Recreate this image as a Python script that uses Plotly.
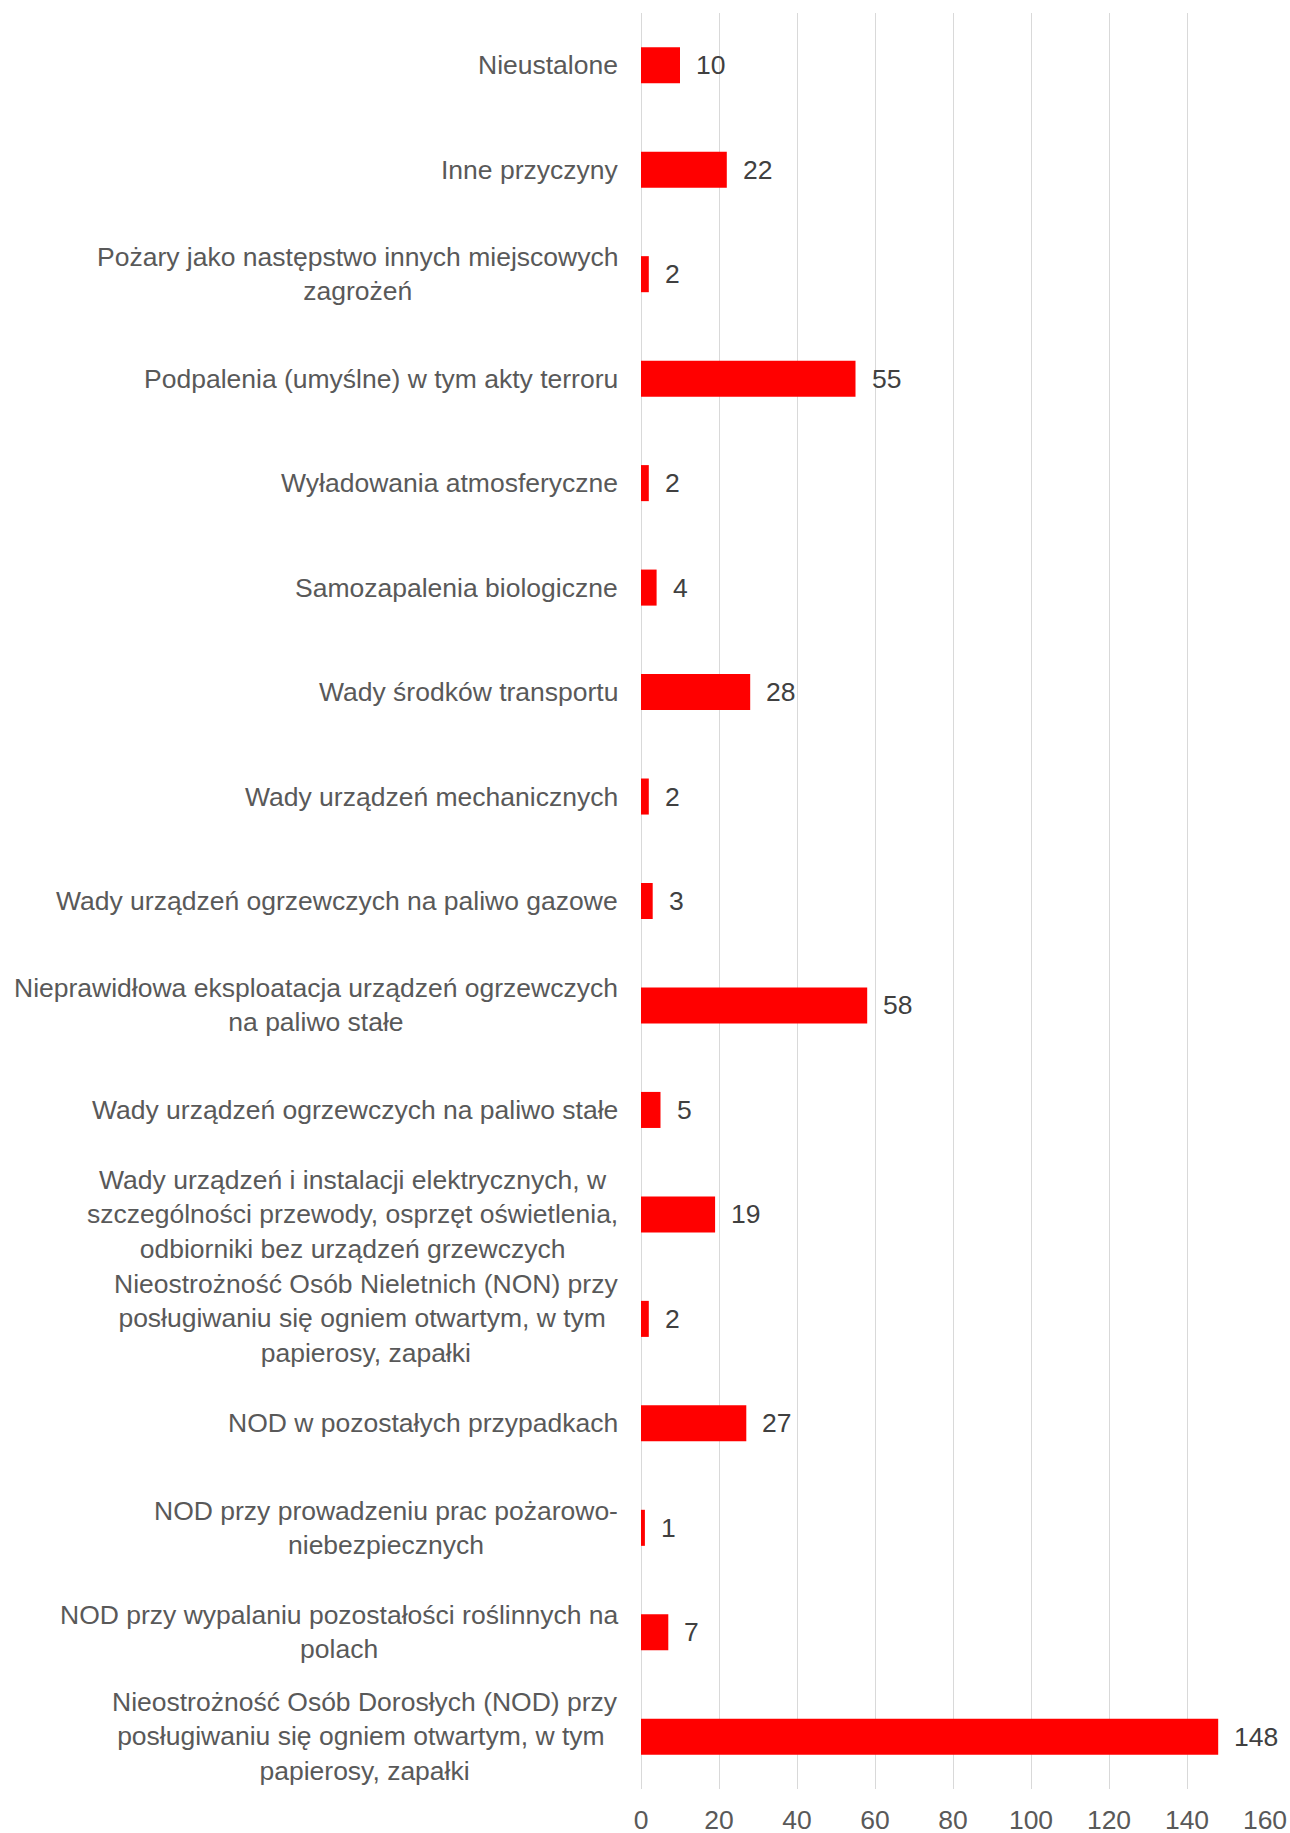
import plotly.graph_objects as go

categories = [
    "Nieustalone",
    "Inne przyczyny",
    "Pożary jako następstwo innych miejscowych<br>zagrożeń",
    "Podpalenia (umyślne) w tym akty terroru",
    "Wyładowania atmosferyczne",
    "Samozapalenia biologiczne",
    "Wady środków transportu",
    "Wady urządzeń mechanicznych",
    "Wady urządzeń ogrzewczych na paliwo gazowe",
    "Nieprawidłowa eksploatacja urządzeń ogrzewczych<br>na paliwo stałe",
    "Wady urządzeń ogrzewczych na paliwo stałe",
    "Wady urządzeń i instalacji elektrycznych, w<br>szczególności przewody, osprzęt oświetlenia,<br>odbiorniki bez urządzeń grzewczych",
    "Nieostrożność Osób Nieletnich (NON) przy<br>posługiwaniu się ogniem otwartym, w tym <br>papierosy, zapałki",
    "NOD w pozostałych przypadkach",
    "NOD przy prowadzeniu prac pożarowo-<br>niebezpiecznych",
    "NOD przy wypalaniu pozostałości roślinnych na<br>polach",
    "Nieostrożność Osób Dorosłych (NOD) przy<br>posługiwaniu się ogniem otwartym, w tym <br>papierosy, zapałki",
]
values = [10, 22, 2, 55, 2, 4, 28, 2, 3, 58, 5, 19, 2, 27, 1, 7, 148]
x_ticks = [0, 20, 40, 60, 80, 100, 120, 140, 160]

FONT = "Liberation Sans, Arial, sans-serif"
GREY = "#595959"
FS = 26.5

fig = go.Figure(
    go.Bar(
        x=values,
        y=categories,
        orientation="h",
        marker=dict(color="#FF0000", line=dict(width=0)),
        width=0.345,
        hoverinfo="x+y",
    )
)

annotations = []
for c, v in zip(categories, values):
    annotations.append(dict(
        x=v, y=c, xref="x", yref="y", text=str(v), showarrow=False,
        xanchor="left", yanchor="middle", xshift=14,
        font=dict(family=FONT, size=FS, color="#404040"),
    ))
    annotations.append(dict(
        x=0, y=c, xref="paper", yref="y", text=c, showarrow=False,
        xanchor="right", yanchor="middle", xshift=-21, align="center",
        font=dict(family=FONT, size=FS, color=GREY),
    ))

fig.update_layout(
    width=1290, height=1833,
    margin=dict(l=641, r=25, t=13, b=44, autoexpand=False),
    plot_bgcolor="white", paper_bgcolor="white",
    showlegend=False,
    annotations=annotations,
    font=dict(family=FONT, size=FS, color=GREY),
    xaxis=dict(
        range=[0, 160], tickvals=x_ticks, showgrid=True, gridcolor="#d9d9d9",
        gridwidth=1, zeroline=True, zerolinecolor="#d9d9d9", zerolinewidth=1,
        showline=False, ticks="", ticklabelstandoff=12, automargin=False,
        tickfont=dict(family=FONT, size=FS, color=GREY),
    ),
    yaxis=dict(
        categoryorder="array", categoryarray=categories, autorange="reversed",
        showticklabels=False, showgrid=False, zeroline=False, showline=False,
        automargin=False,
    ),
)

fig.write_html(
    "out.html",
    config={"displayModeBar": False},
    post_script="document.body.style.margin='0';document.body.style.overflow='hidden';",
)
